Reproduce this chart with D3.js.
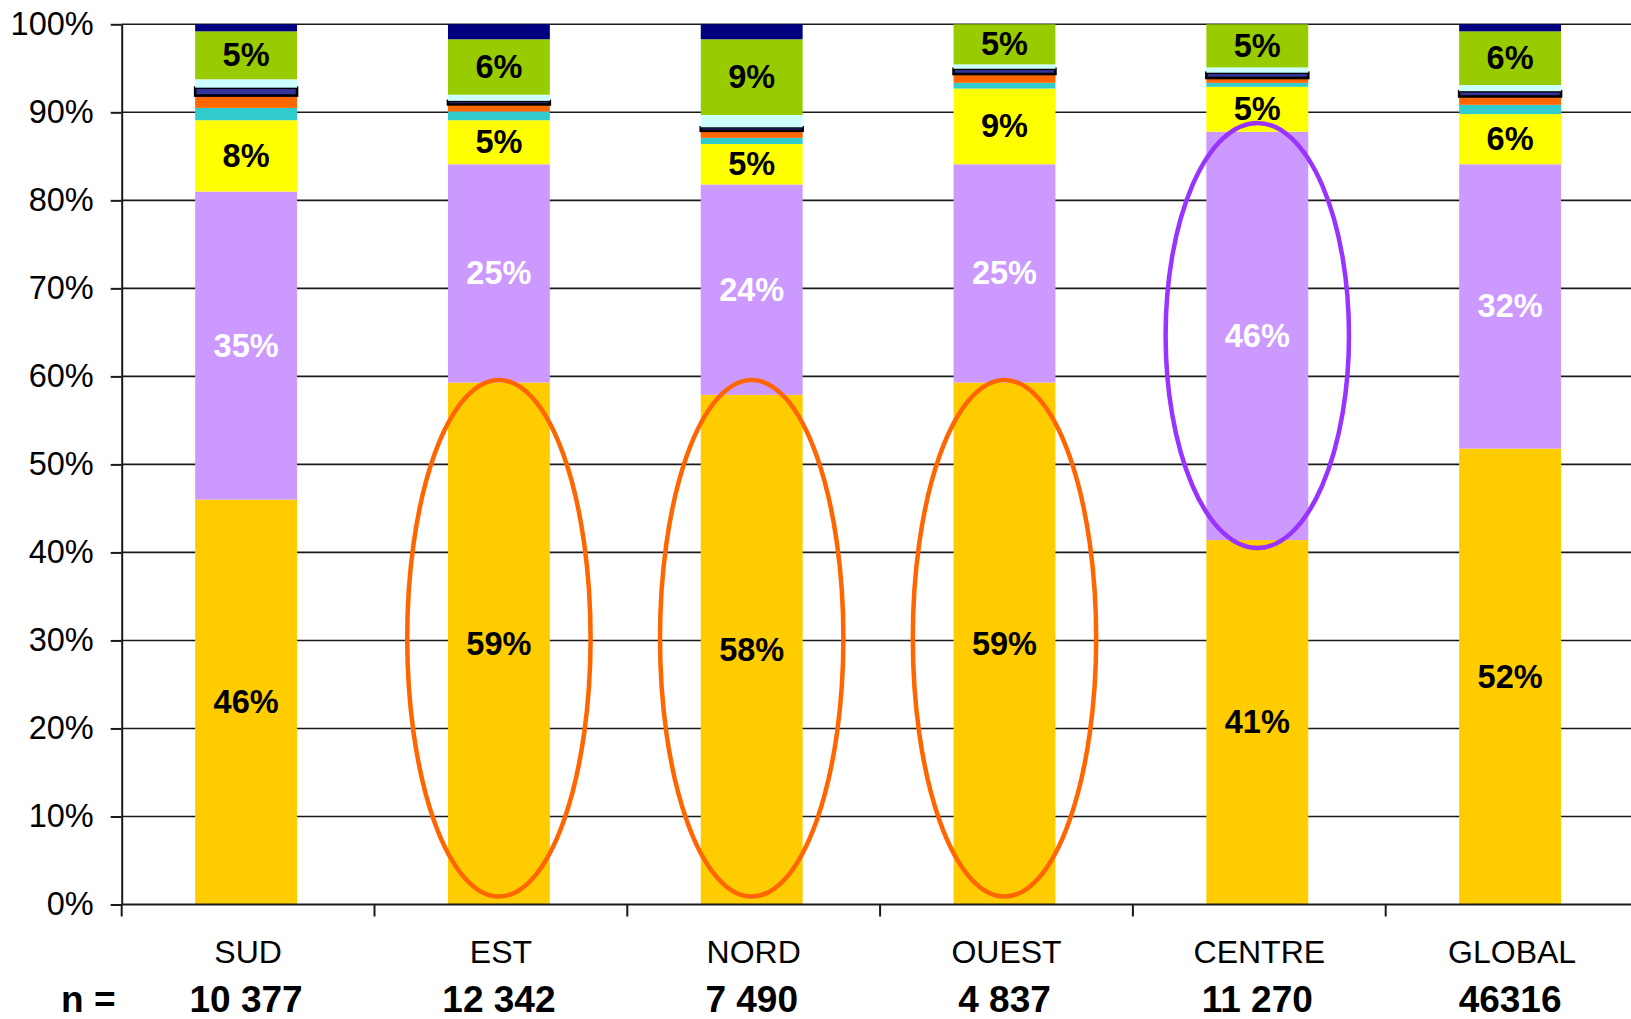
<!DOCTYPE html>
<html>
<head>
<meta charset="utf-8">
<script src="https://cdn.jsdelivr.net/npm/d3@7"></script>
<style>
  html, body { margin: 0; padding: 0; background: #fff; }
  svg { display: block; font-family: "Liberation Sans", Arial, sans-serif; }
</style>
</head>
<body>
<script>
// ---------- data ----------
const categories = ["SUD", "EST", "NORD", "OUEST", "CENTRE", "GLOBAL"];
const nLabels = ["10 377", "12 342", "7 490", "4 837", "11 270", "46316"];
const nPrefix = "n =";
const yTicks = [0, 10, 20, 30, 40, 50, 60, 70, 80, 90, 100];

const s1 = [46.0, 59.3, 57.9, 59.3, 41.4, 51.8];   // gold
const s2 = [35.0, 24.8, 23.9, 24.8, 46.4, 32.3];   // lavender
const s3 = [8.1, 5.0, 4.6, 8.6, 5.1, 5.7];         // yellow
const s4 = [1.4, 1.0, 0.7, 0.65, 0.45, 1.05];      // turquoise
const s5 = [1.4, 0.8, 0.8, 1.0, 0.55, 0.95];       // orange
const s6 = [0.9, 0.4, 0.4, 0.6, 0.6, 0.6];         // dark blue (outlined)
const s7 = [0.95, 0.7, 1.4, 0.5, 0.6, 0.7];        // light cyan
const s8 = [5.45, 6.3, 8.6, 4.55, 4.9, 6.1];       // green
const s9 = [0.8, 1.7, 1.7, 0, 0, 0.8];             // navy

const seriesKeys = ["s1", "s2", "s3", "s4", "s5", "s6", "s7", "s8", "s9"];
const seriesValues = [s1, s2, s3, s4, s5, s6, s7, s8, s9];
const seriesColors = ["#FFCC00", "#CC99FF", "#FFFF00", "#33CCCC", "#FF6600", "#333399", "#CCFFFF", "#99CC00", "#000080"];
const labelledSeries = ["s1", "s2", "s3", "s8"];
const labelColors = { s1: "#000", s2: "#fff", s3: "#000", s8: "#000" };
const outlinedSeries = ["s6"];

// highlight ellipses (category, value range in %)
const highlights = [
  { cat: "EST", from: 0.9, to: 59.6, color: "#FF6600" },
  { cat: "NORD", from: 0.9, to: 59.6, color: "#FF6600" },
  { cat: "OUEST", from: 0.9, to: 59.6, color: "#FF6600" },
  { cat: "CENTRE", from: 40.5, to: 88.8, color: "#9933FF" }
];

// ---------- layout ----------
const W = 1631, H = 1019;
const x0 = 121.7, x1 = 1638.5;
const yTop = 24.3, yBot = 904.5;

const table = categories.map((c, i) => {
  const row = { cat: c };
  seriesKeys.forEach((k, j) => row[k] = seriesValues[j][i]);
  return row;
});

const svg = d3.select("body").append("svg").attr("width", W).attr("height", H);

const pad = 0.597;
const x = d3.scaleBand().domain(categories).range([x0 - 2, x1 - 2]).paddingInner(pad).paddingOuter(pad / 2);
const slot = d3.scaleBand().domain(categories).range([x0, x1]).padding(0);
const y = d3.scaleLinear().domain([0, 100]).range([yBot, yTop]);

// gridlines
svg.append("g").selectAll("line").data(yTicks.filter(t => t > 0)).join("line")
  .attr("x1", x0).attr("x2", W)
  .attr("y1", d => y(d)).attr("y2", d => y(d))
  .attr("stroke", "#1a1a1a").attr("stroke-width", 1.6);

// stacks
const stack = d3.stack().keys(seriesKeys)(table);
const colorOf = d3.scaleOrdinal().domain(seriesKeys).range(seriesColors);

const layers = svg.append("g").selectAll("g").data(stack).join("g")
  .attr("fill", d => colorOf(d.key));

layers.selectAll("rect").data(d => d.map(p => Object.assign(p, { key: d.key }))).join("rect")
  .attr("x", d => x(d.data.cat))
  .attr("width", x.bandwidth())
  .attr("y", d => y(d[1]))
  .attr("height", d => Math.max(0, y(d[0]) - y(d[1])))
  .attr("stroke", d => outlinedSeries.includes(d.key) && d[1] > d[0] ? "#000" : "none")
  .attr("stroke-width", 2.6);

// labels
const lbl = svg.append("g");
stack.filter(s => labelledSeries.includes(s.key)).forEach(s => {
  lbl.selectAll(null).data(s).join("text")
    .attr("x", d => x(d.data.cat) + x.bandwidth() / 2)
    .attr("y", d => (y(d[0]) + y(d[1])) / 2)
    .attr("text-anchor", "middle")
    .attr("dominant-baseline", "central")
    .attr("font-size", 32.5)
    .attr("font-weight", "bold")
    .attr("fill", labelColors[s.key])
    .text(d => Math.round(d[1] - d[0]) + "%");
});

// ellipses
svg.append("g").selectAll("ellipse").data(highlights).join("ellipse")
  .attr("cx", d => x(d.cat) + x.bandwidth() / 2)
  .attr("cy", d => (y(d.from) + y(d.to)) / 2)
  .attr("rx", x.bandwidth() * 0.9)
  .attr("ry", d => (y(d.from) - y(d.to)) / 2)
  .attr("fill", "none")
  .attr("stroke", d => d.color)
  .attr("stroke-width", 4.5);

// y axis
const yAxis = svg.append("g").attr("transform", `translate(${x0},0)`)
  .call(d3.axisLeft(y).tickValues(yTicks).tickFormat(d => d + "%").tickSize(11).tickSizeOuter(0).tickPadding(17));
yAxis.select(".domain").attr("stroke", "#1a1a1a").attr("stroke-width", 2);
yAxis.selectAll(".tick line").attr("stroke", "#1a1a1a").attr("stroke-width", 2);
yAxis.selectAll(".tick text").attr("font-size", 32.5).attr("fill", "#000")
  .attr("font-family", "Liberation Sans, Arial, sans-serif");

// x axis line + boundary ticks
svg.append("line").attr("x1", x0).attr("x2", W).attr("y1", yBot).attr("y2", yBot)
  .attr("stroke", "#1a1a1a").attr("stroke-width", 2);
svg.append("g").selectAll("line").data(categories).join("line")
  .attr("x1", d => slot(d)).attr("x2", d => slot(d))
  .attr("y1", yBot).attr("y2", yBot + 12)
  .attr("stroke", "#1a1a1a").attr("stroke-width", 2);

// category labels
const xAxis = svg.append("g").attr("transform", `translate(0,${yBot})`)
  .call(d3.axisBottom(slot).tickSize(0).tickPadding(0));
xAxis.select(".domain").remove();
xAxis.selectAll(".tick text").attr("font-size", 32).attr("fill", "#000")
  .attr("font-family", "Liberation Sans, Arial, sans-serif")
  .attr("dy", null).attr("y", 58).attr("dominant-baseline", "auto");

// n row
svg.append("text").attr("x", 61).attr("y", 1012).attr("font-size", 37).attr("font-weight", "bold").text(nPrefix);
svg.append("g").selectAll("text").data(categories).join("text")
  .attr("x", (d) => slot(d) + slot.bandwidth() / 2 - 2)
  .attr("y", 1012)
  .attr("text-anchor", "middle")
  .attr("font-size", 37).attr("font-weight", "bold")
  .text((d, i) => nLabels[i]);
</script>
</body>
</html>
